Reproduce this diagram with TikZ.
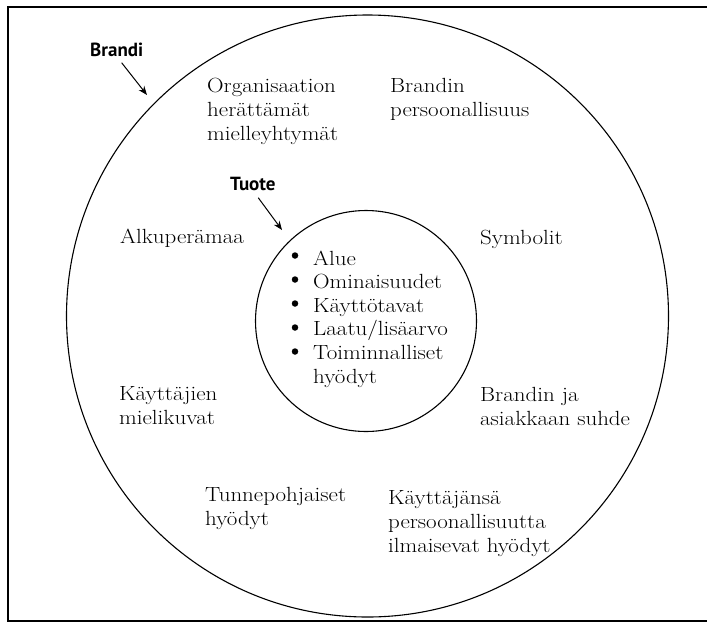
\documentclass[tikz,border=0pt]{standalone}
\usepackage{fontspec}
\newfontfamily\labfont{PT Sans}
\newfontfamily\bodyfont{Latin Modern Roman}[FakeStretch=1.12]
\usetikzlibrary{arrows.meta}
\begin{document}
\begin{tikzpicture}[x=1pt,y=-1pt,
  txt/.style={anchor=base west,align=left,inner sep=0pt,font=\bodyfont\fontsize{20.5}{23.6}\selectfont},
  lab/.style={anchor=base west,inner sep=0pt,font=\labfont\bfseries\fontsize{19}{21}\selectfont},
  ring/.style={circle,draw,line width=1.1pt,inner sep=0pt},
  dot/.style={fill,circle,inner sep=0pt,minimum size=6.5pt},
  arr/.style={line width=1pt,-{Stealth[length=9pt,width=7pt]}}]
\useasboundingbox (0,0) rectangle (707,625);
\clip (0,0) rectangle (707,625);
\fill[white] (0,0) rectangle (707,625);
\draw[line width=1.5pt] (8,7) rectangle (730,621);
\node[ring,minimum size=602pt] (outer) at (367.5,316) {};
\node[ring,minimum size=221pt] (inner) at (366,321) {};
\node[lab] (brandi) at (90,56) {Brandi};
\node[lab] (tuote) at (230,190) {Tuote};
\coordinate (bt) at (147,95);
\coordinate (tt) at (282,230);
\draw[arr,shorten <=8pt] (brandi.south) -- (bt);
\draw[arr,shorten <=9pt] (tuote.south) -- (tt);
\node[txt] (org) at (207,140) {Organisaation\\herättämät\\mielleyhtymät};
\node[txt] (pers) at (390,116.5) {Brandin\\persoonallisuus};
\node[txt] (alku) at (120,243) {Alkuperämaa};
\node[txt] (sym) at (480,244) {Symbolit};
\node[txt] (kayt) at (119,424.5) {Käyttäjien\\mielikuvat};
\node[txt] (suhde) at (480,425.5) {Brandin ja\\asiakkaan suhde};
\node[txt] (tunne) at (205,525.5) {Tunnepohjaiset\\hyödyt};
\node[txt] (ilm) at (388,552) {Käyttäjänsä\\persoonallisuutta\\ilmaisevat hyödyt};
\node[txt] (list) at (313,383) {Alue\\Ominaisuudet\\Käyttötavat\\Laatu/lisäarvo\\Toiminnalliset\\hyödyt};
\foreach \i/\y in {1/255.5,2/279.5,3/303.5,4/327.5,5/351.5}
  \node[dot] (b\i) at (295,\y) {};
\end{tikzpicture}
\end{document}
